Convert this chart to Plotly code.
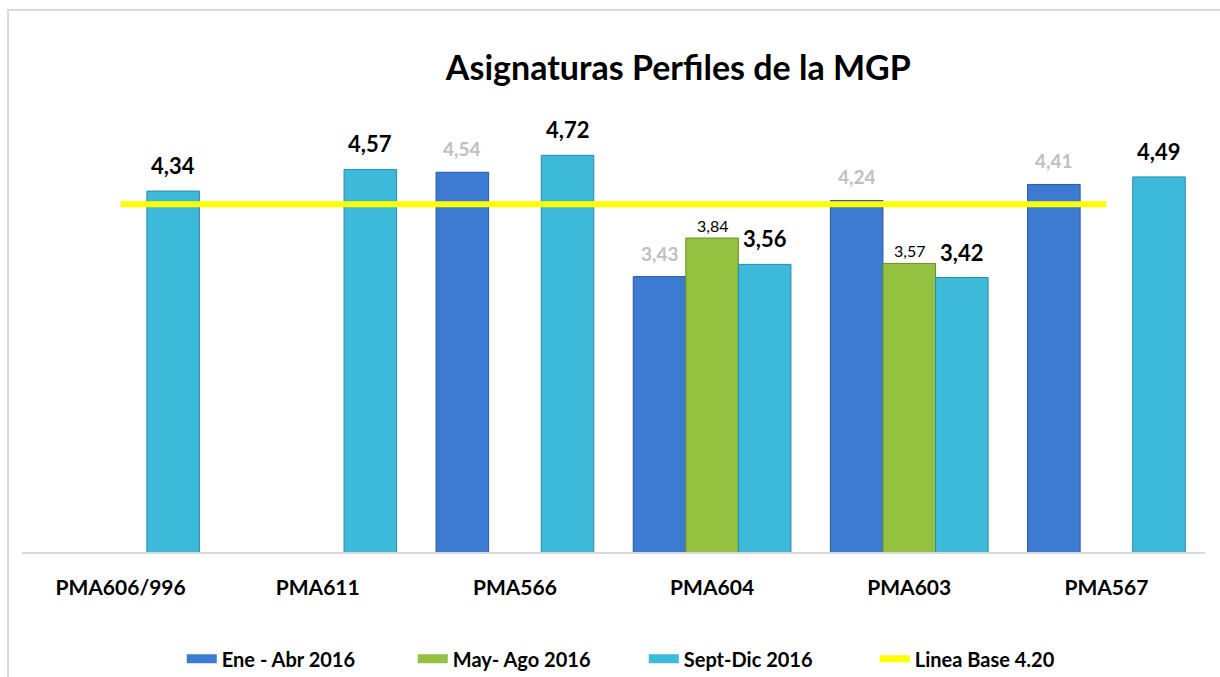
import plotly.graph_objects as go

categories = ["PMA606/996", "PMA611", "PMA566", "PMA604", "PMA603", "PMA567"]
series_names = ["Ene - Abr 2016", "May- Ago 2016", "Sept-Dic 2016"]
ene_abr = [None, None, 4.54, 3.43, 4.24, 4.41]
may_ago = [None, None, None, 3.84, 3.57, None]
sept_dic = [4.34, 4.57, 4.72, 3.56, 3.42, 4.49]
linea_base_name = "Linea Base 4.20"
linea_base = [4.20] * len(categories)

FONT = "Lato"
colors = ["#3D7BD3", "#94C13F", "#3DB9D9"]
edge = ["#2A5A9E", "#6A8F28", "#2A8CA6"]

fig = go.Figure()
for name, vals, c, e in zip(series_names, [ene_abr, may_ago, sept_dic], colors, edge):
    fig.add_trace(go.Bar(x=categories, y=vals, name=name, marker=dict(color=c, line=dict(color=e, width=1)),
                         showlegend=False, hoverinfo="x+y"))

fig.add_trace(go.Scatter(x=categories, y=linea_base, mode="lines", name=linea_base_name,
                         line=dict(color="#FFFF00", width=6), showlegend=False))

# legend proxies
for name, c in zip(series_names, colors):
    fig.add_trace(go.Scatter(x=[None], y=[None], mode="lines", name=name,
                             line=dict(color=c, width=9)))
fig.add_trace(go.Scatter(x=[None], y=[None], mode="lines", name=linea_base_name,
                         line=dict(color="#FFFF00", width=7)))

# value labels
plot_w = 1183
cat_w = plot_w / len(categories)
bar_w = cat_w * 0.8 / 3
label_styles = [
    dict(color="#BFBFBF", size=19, bold=True, yshift=10),
    dict(color="#000000", size=16, bold=False, yshift=1),
    dict(color="#000000", size=22, bold=True, yshift=10),
]
for i, (vals, st) in enumerate(zip([ene_abr, may_ago, sept_dic], label_styles)):
    for cat, v in zip(categories, vals):
        if v is None:
            continue
        txt = f"{v:.2f}".replace(".", ",")
        if st["bold"]:
            txt = f"<b>{txt}</b>"
        fig.add_annotation(x=cat, y=v, text=txt, showarrow=False, xshift=(i - 1) * bar_w,
                           yanchor="bottom", yshift=st["yshift"],
                           font=dict(family=FONT, size=st["size"], color=st["color"]))

fig.add_shape(type="rect", xref="paper", yref="paper", x0=-0.0118, x1=1.03, y0=-0.3, y1=1.153,
              line=dict(color="#D9D9D9", width=2), fillcolor="rgba(0,0,0,0)", layer="below")

fig.update_layout(
    width=1220, height=677,
    margin=dict(l=22, r=15, t=82, b=125),
    paper_bgcolor="white", plot_bgcolor="white",
    barmode="group", bargap=0.2, bargroupgap=0,
    font=dict(family=FONT, color="#000000"),
    title=dict(text="<b>Asignaturas Perfiles de la MGP</b>", x=0.556, xref="container", xanchor="center",
               y=0.9, yref="container", yanchor="middle", font=dict(family=FONT, size=34, color="#000000")),
    legend=dict(orientation="h", x=0.149, xanchor="left", xref="container", y=0.027, yref="container",
                yanchor="middle", font=dict(family=FONT, size=20, color="#000000", weight="bold"),
                entrywidth=186, entrywidthmode="pixels", traceorder="normal"),
    xaxis=dict(showline=True, linecolor="#D9D9D9", linewidth=2, showgrid=False, zeroline=False,
               tickfont=dict(family=FONT, size=21, color="#000000", weight="bold"), ticks="",
               ticklabelstandoff=16),
    yaxis=dict(range=[0.5, 5.5], visible=False, showgrid=False, zeroline=False),
)

fig.write_html("out.html", config={"displayModeBar": False},
               post_script="document.body.style.margin='0px';")
